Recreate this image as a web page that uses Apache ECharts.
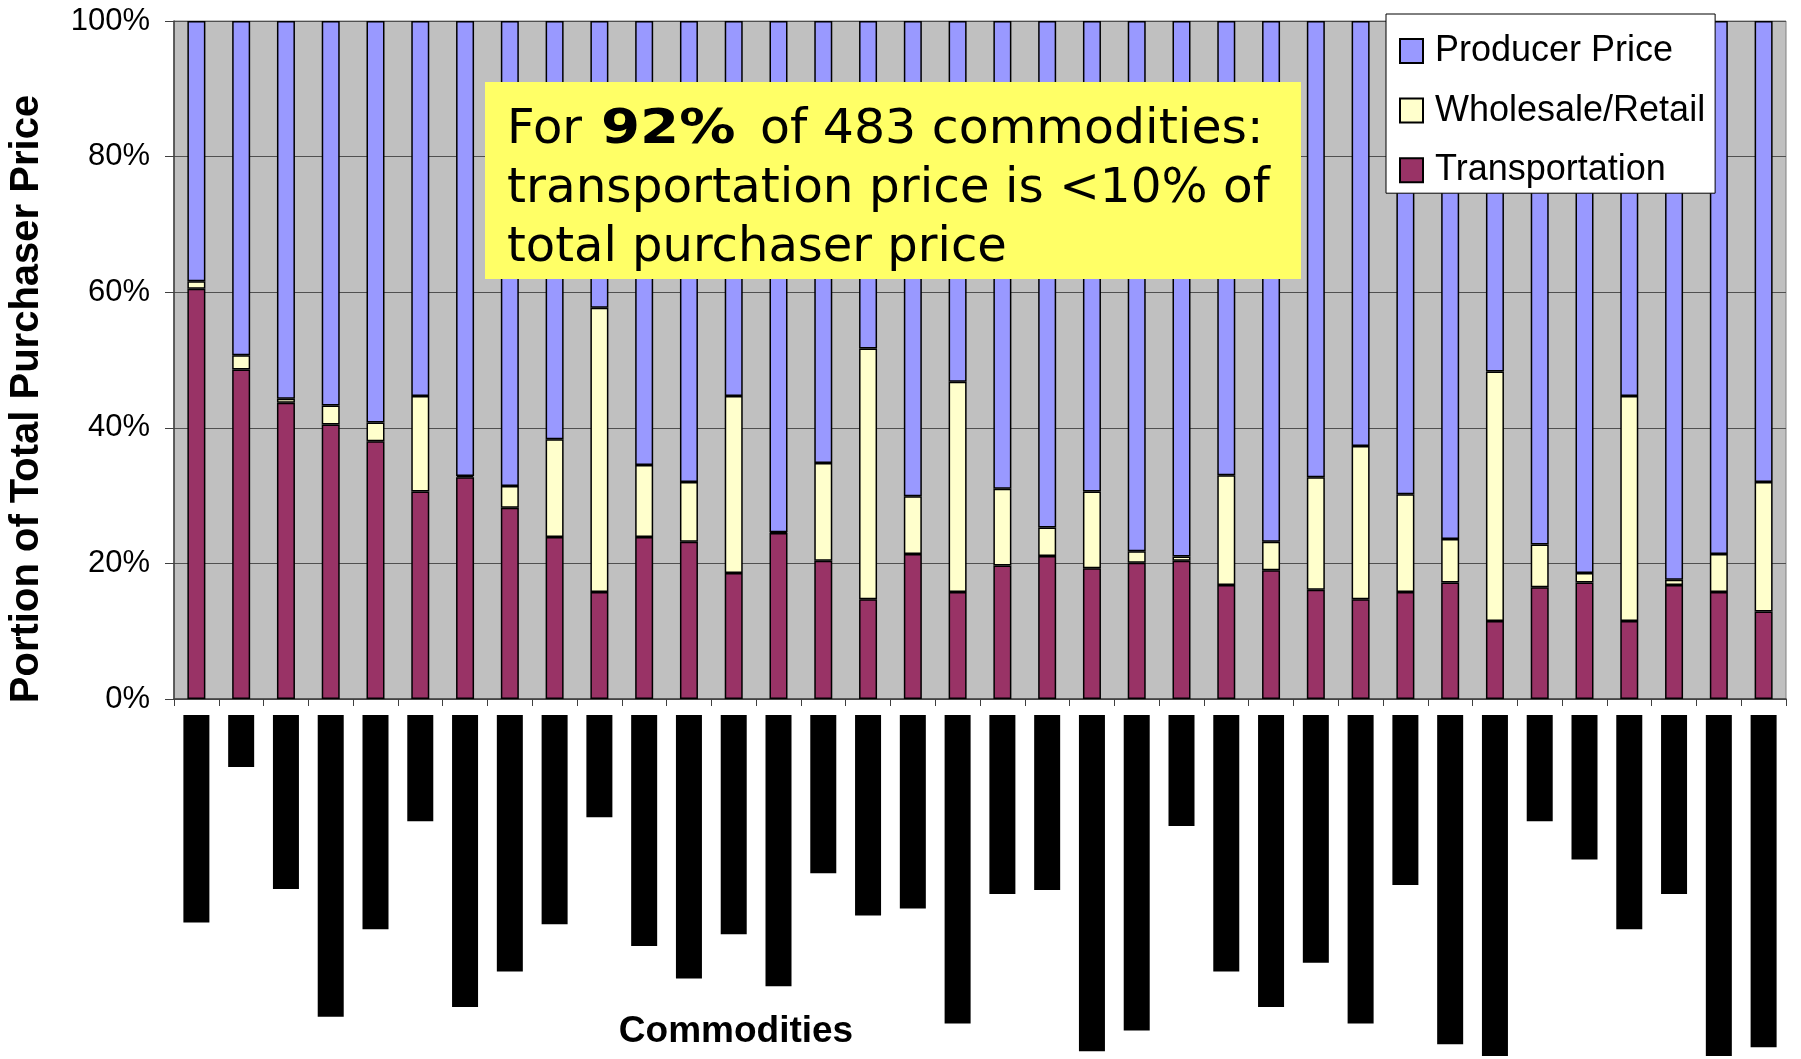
<!DOCTYPE html>
<html>
<head>
<meta charset="utf-8">
<script src="https://cdn.jsdelivr.net/npm/echarts@6/dist/echarts.min.js"></script>
<style>
html,body{margin:0;padding:0;background:#fff;}
#chart{width:1801px;height:1059px;}
</style>
</head>
<body>
<div id="chart"></div>
<script>
// Commodity index (labels are redacted in the original)
const commodities = Array.from({length: 36}, (_, i) => 'C' + (i + 1));
// Share of total purchaser price (%)
const transportation = [60.5,48.6,43.7,40.5,38.0,30.6,32.7,28.2,23.9,15.8,23.9,23.2,18.6,24.5,20.4,14.7,21.4,15.8,19.7,21.1,19.3,20.1,20.4,16.8,19.0,16.1,14.7,15.8,17.2,11.5,16.5,17.2,11.5,16.8,15.8,12.9];
const wholesaleRetail = [1.1,2.1,0.6,2.8,2.8,14.1,0.2,3.2,14.4,41.9,10.6,8.8,26.1,0.1,14.4,37.0,8.5,31.0,11.3,4.2,11.3,1.7,0.6,16.2,4.2,16.6,22.6,14.4,6.4,36.8,6.3,1.4,33.2,0.8,5.6,19.1];
const producerPrice = [38.4,49.3,55.7,56.7,59.2,55.3,67.1,68.6,61.7,42.3,65.5,68.0,55.3,75.4,65.2,48.3,70.1,53.2,69.0,74.7,69.4,78.2,79.0,67.0,76.8,67.3,62.7,69.8,76.4,51.7,77.2,81.4,55.3,82.4,78.6,68.0];
// Length of the blacked-out (redacted) category label under each bar
const redactedLabelLength = [211,53,177,307,218,108,297,261,213,104,235,268,223,276,161,204,197,314,182,178,342,321,113,261,297,252,314,173,335,347,108,147,218,182,347,338];
const yTicks = [0,20,40,60,80,100];

const chart = echarts.init(document.getElementById('chart'), null, {renderer: 'canvas'});
const border = {borderColor: '#000', borderWidth: 1.5};
const F = '"Liberation Sans", Arial, sans-serif';
const V = '"DejaVu Sans", Verdana, sans-serif';

chart.setOption({
  animation: false,
  legend: {
    data: ['Producer Price', 'Wholesale/Retail', 'Transportation'],
    orient: 'vertical',
    left: 1386, top: 14,
    padding: [19, 10, 5, 13],
    itemGap: 23.6,
    itemWidth: 23, itemHeight: 24,
    icon: 'rect',
    backgroundColor: '#fff',
    borderColor: '#000', borderWidth: 1,
    textStyle: {fontFamily: F, fontSize: 36, color: '#000', padding: [0, 0, 0, 7]},
    selectedMode: false,
    z: 20
  },
  grid: [
    {left: 174, right: 15, top: 21, bottom: 360, show: true, backgroundColor: '#C0C0C0', borderColor: '#808080', borderWidth: 1},
    {left: 174, right: 15, top: 715, height: 350}
  ],
  xAxis: [
    {type: 'category', gridIndex: 0, data: commodities,
     axisLine: {lineStyle: {color: '#404040', width: 1.5}},
     axisTick: {show: true, length: 7, lineStyle: {color: '#404040'}},
     axisLabel: {show: false}},
    {type: 'category', gridIndex: 1, data: commodities,
     axisLine: {show: false}, axisTick: {show: false}, axisLabel: {show: false}}
  ],
  yAxis: [
    {type: 'value', gridIndex: 0, min: yTicks[0], max: yTicks[yTicks.length-1], interval: 20,
     axisLine: {show: true, lineStyle: {color: '#404040', width: 1.5}},
     axisTick: {show: true, length: 9, lineStyle: {color: '#404040'}},
     axisLabel: {formatter: '{value}%', fontFamily: F, fontSize: 31, color: '#000', margin: 24},
     splitLine: {show: true, lineStyle: {color: '#505050', width: 1}}},
    {type: 'value', gridIndex: 1, min: 0, max: 350, inverse: true, show: false, splitLine: {show: false}}
  ],
  series: [
    {name: 'Transportation', type: 'bar', stack: 'p', data: transportation, barWidth: 18,
     itemStyle: Object.assign({color: '#993366'}, border)},
    {name: 'Wholesale/Retail', type: 'bar', stack: 'p', data: wholesaleRetail, barWidth: 18,
     itemStyle: Object.assign({color: '#FFFFCC'}, border)},
    {name: 'Producer Price', type: 'bar', stack: 'p', data: producerPrice, barWidth: 18,
     itemStyle: Object.assign({color: '#9999FF'}, border)},
    {name: 'redacted', type: 'bar', xAxisIndex: 1, yAxisIndex: 1, data: redactedLabelLength, barWidth: 26,
     itemStyle: {color: '#000'}, silent: true}
  ],
  graphic: [
    {type: 'rect', shape: {x: 485, y: 82, width: 816, height: 197}, style: {fill: '#FFFF66'}, z: 10},
    {type: 'text', x: 507, y: 131, z: 11, style: {text: 'For', verticalAlign: 'middle', font: '48px ' + V, fill: '#000'}},
    {type: 'text', x: 601, y: 131, scaleX: 1.17, z: 11, style: {text: '92%', verticalAlign: 'middle', font: 'bold 48px ' + V, fill: '#000'}},
    {type: 'text', x: 760, y: 131, scaleX: 1.02, z: 11, style: {text: 'of 483 commodities:', verticalAlign: 'middle', font: '48px ' + V, fill: '#000'}},
    {type: 'text', x: 507, y: 190, scaleX: 1.01, z: 11, style: {text: 'transportation price is <10% of', verticalAlign: 'middle', font: '48px ' + V, fill: '#000'}},
    {type: 'text', x: 507, y: 249, z: 11, style: {text: 'total purchaser price', verticalAlign: 'middle', font: '48px ' + V, fill: '#000'}},
    {type: 'text', x: 27, y: 399, rotation: Math.PI / 2, z: 11, style: {text: 'Portion of Total Purchaser Price',
      align: 'center', verticalAlign: 'middle', font: 'bold 40px "Liberation Sans", Arial, sans-serif', fill: '#000'}},
    {type: 'text', x: 736, y: 1032, z: 11, style: {text: 'Commodities',
      align: 'center', verticalAlign: 'middle', font: 'bold 37px "Liberation Sans", Arial, sans-serif', fill: '#000'}}
  ]
});
</script>
</body>
</html>
